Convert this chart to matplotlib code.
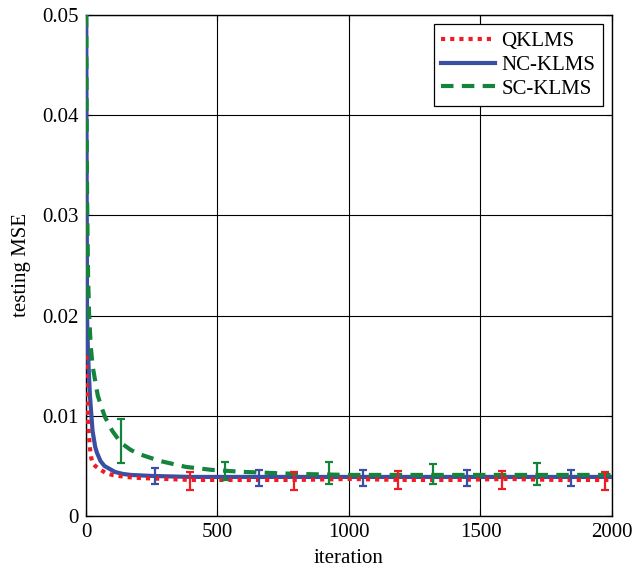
import matplotlib
matplotlib.use("Agg")
import matplotlib.pyplot as plt

# ---- data ----
q_iter = [1, 3, 6, 10, 15, 20, 25, 35, 50, 75, 100, 150, 200, 300, 400, 600, 800, 1000, 1200, 1400, 1600, 1800, 2000]
q_mse  = [0.016, 0.013, 0.0105, 0.0085, 0.0068, 0.0058, 0.0053, 0.0050, 0.0047, 0.0043, 0.0041, 0.0039, 0.0038, 0.0037, 0.0036, 0.0036, 0.0036, 0.0037, 0.0036, 0.0036, 0.0037, 0.0036, 0.0036]

n_iter = [1, 4, 8, 15, 25, 35, 42, 55, 70, 90, 110, 140, 170, 250, 400, 600, 800, 1000, 1200, 1400, 1600, 1800, 2000]
n_mse  = [0.05, 0.02, 0.016, 0.012, 0.0085, 0.0069, 0.0063, 0.0055, 0.0050, 0.0047, 0.0044, 0.0042, 0.0041, 0.0040, 0.0039, 0.0039, 0.0039, 0.0039, 0.0039, 0.0039, 0.0039, 0.0039, 0.0039]

s_iter = [1, 3, 5, 8, 12, 18, 25, 35, 45, 60, 72, 100, 133, 170, 200, 280, 380, 480, 600, 800, 1000, 1200, 1400, 1600, 1800, 2000]
s_mse  = [0.05, 0.036, 0.030, 0.024, 0.020, 0.017, 0.015, 0.0135, 0.012, 0.0108, 0.0099, 0.0085, 0.0073, 0.0066, 0.0062, 0.0055, 0.0049, 0.0046, 0.0044, 0.0042, 0.0041, 0.0041, 0.0041, 0.0041, 0.0041, 0.0041]

q_eb_x = [395, 790, 1185, 1580, 1975]
q_eb_y = [0.0035, 0.0035, 0.0036, 0.0036, 0.0035]
q_eb_e = [0.0009, 0.0009, 0.0009, 0.0009, 0.0009]

n_eb_x = [262, 658, 1052, 1448, 1844]
n_eb_y = [0.0040, 0.0038, 0.0038, 0.0038, 0.0038]
n_eb_e = [0.0008, 0.0008, 0.0008, 0.0008, 0.0008]

s_eb_x = [133, 528, 923, 1318, 1713]
s_eb_y = [0.0075, 0.0045, 0.0043, 0.0042, 0.0042]
s_eb_e = [0.0022, 0.0009, 0.0011, 0.0010, 0.0011]

labels = ["QKLMS", "NC-KLMS", "SC-KLMS"]
colors = ["#ee1c24", "#3a4fa3", "#14843c"]

x_ticks = [0, 500, 1000, 1500, 2000]
y_ticks = [0, 0.01, 0.02, 0.03, 0.04, 0.05]
y_tick_labels = ["0", "0.01", "0.02", "0.03", "0.04", "0.05"]

# ---- plot ----
plt.rcParams['font.family'] = ['Liberation Serif', 'DejaVu Serif']
fig = plt.figure(figsize=(6.34, 5.74), dpi=100)
ax = fig.add_axes([0.1356, 0.101, 0.8297, 0.873])

ax.plot(n_iter, n_mse, color=colors[1], lw=3.0, ls='-', label=labels[1], zorder=3)
ax.plot(s_iter, s_mse, color=colors[2], lw=3.0, ls=(0, (3, 2)), label=labels[2], zorder=4)
ax.plot(q_iter, q_mse, color=colors[0], lw=3.0, ls=(0, (1, 1.2)), label=labels[0], zorder=5)

ax.errorbar(q_eb_x, q_eb_y, yerr=q_eb_e, fmt='none', ecolor=colors[0], elinewidth=1.6, capsize=3, capthick=1.6, zorder=6)
ax.errorbar(n_eb_x, n_eb_y, yerr=n_eb_e, fmt='none', ecolor=colors[1], elinewidth=1.6, capsize=3, capthick=1.6, zorder=6)
ax.errorbar(s_eb_x, s_eb_y, yerr=s_eb_e, fmt='none', ecolor=colors[2], elinewidth=1.6, capsize=3, capthick=1.6, zorder=6)

ax.set_xlim(0, 2000)
ax.set_ylim(0, 0.05)
ax.set_xticks(x_ticks)
ax.set_xticklabels([str(t) for t in x_ticks])
ax.set_yticks(y_ticks)
ax.set_yticklabels(y_tick_labels)
ax.tick_params(direction='in', top=True, right=True, labelsize=15, length=4, width=0.8, pad=5)
ax.grid(True, color='black', lw=0.8)
for s in ax.spines.values():
    s.set_linewidth(1.0)

ax.set_xlabel("iteration", fontsize=15, labelpad=5)
ax.set_ylabel("testing MSE", fontsize=15, labelpad=8)

h, l = ax.get_legend_handles_labels()
order = [l.index(x) for x in labels]
leg = ax.legend([h[i] for i in order], [l[i] for i in order], loc='upper right',
                fontsize=15, fancybox=False, framealpha=1, edgecolor='black',
                handlelength=2.6, borderaxespad=0.45, labelspacing=0.2, handletextpad=0.3,
                borderpad=0.35)
leg.get_frame().set_linewidth(0.9)

fig.savefig("out.png", dpi=100)
